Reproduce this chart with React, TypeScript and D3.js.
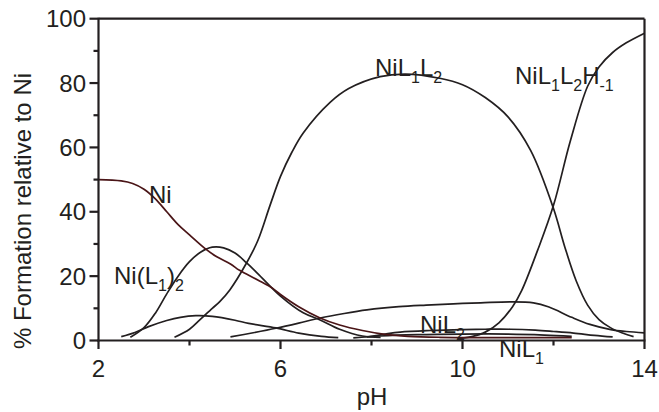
import React from "react";
import * as d3 from "d3";

const xTicksMajor = [2, 6, 10, 14];
const xTicksMinor = [4, 8, 12];
const yTicksMajor = [0, 20, 40, 60, 80, 100];
const yTicksMinor = [10, 30, 50, 70, 90];

const seriesNi: [number, number][] = [
  [2, 50], [2.5, 49.6], [2.75, 48.8], [3, 47], [3.25, 44], [3.5, 40], [3.75, 36], [4, 32.8],
  [4.33, 28.7], [4.6, 26], [4.9, 23.8], [5.1, 21.8], [5.5, 18.8], [5.83, 16.2], [6, 14.3],
  [6.4, 10.5], [6.87, 7.0], [7.3, 4.8], [7.8, 3.1], [8.3, 1.9], [8.8, 1.3], [9.5, 1.0],
  [10.5, 0.9], [11.5, 0.9], [12.4, 0.9],
];
const seriesNiL1_2: [number, number][] = [
  [2.7, 1], [3, 4], [3.25, 8.5], [3.5, 14.5], [3.75, 20], [4, 24.5], [4.25, 27.5], [4.5, 29],
  [4.75, 28.8], [5, 27.2], [5.25, 24.2], [5.5, 20.8], [6, 13.8], [6.5, 8.6], [6.87, 6.4],
  [7.3, 3.5], [7.8, 1.4], [8.2, 1.0],
];
const seriesHumpB: [number, number][] = [
  [2.5, 1.2], [2.8, 2.5], [3.1, 4.3], [3.5, 6.2], [3.8, 7.2], [4.14, 7.7], [4.5, 7.5],
  [5, 6.3], [5.3, 5.3], [5.9, 3.9], [6.4, 2.3], [6.9, 1.3], [7.27, 0.9],
];
const seriesRising: [number, number][] = [
  [4.9, 1.1], [5.4, 2.4], [5.9, 3.8], [6.4, 5.4], [6.87, 7.0], [7.4, 8.4], [7.9, 9.5],
  [8.6, 10.5], [9.2, 11.0], [9.8, 11.4], [10.4, 11.7], [11.05, 12.0], [11.56, 11.7],
  [11.9, 10.4], [12.4, 7.2], [12.8, 5.0], [13.26, 3.4], [13.6, 2.8], [14, 2.4],
];
const seriesNiL1L2: [number, number][] = [
  [3.67, 1.0], [4, 3.5], [4.22, 6.3], [4.5, 10], [4.66, 12], [4.89, 15.8], [5.25, 24],
  [5.5, 31], [5.77, 42], [6, 51], [6.25, 58.5], [6.5, 64.5], [7.09, 74], [7.5, 78.3],
  [8.19, 82], [8.75, 82.8], [9.5, 81.5], [10, 79.5], [10.5, 75.5], [11, 69.5],
  [11.5, 59], [12, 41], [12.25, 29], [12.5, 18.5], [12.75, 11], [13, 6.5],
  [13.25, 4.0], [13.5, 2.4], [13.76, 1.2],
];
const seriesNiL1L2Hm1: [number, number][] = [
  [9.9, 0.6], [10.2, 1.2], [10.5, 2.6], [10.8, 5.5], [11.1, 10.5], [11.3, 15.5],
  [11.65, 28], [12, 42], [12.37, 62], [12.75, 79], [13, 85], [13.3, 89.5], [13.6, 92.5],
  [14, 95.5],
];
const seriesNiL2: [number, number][] = [
  [7.9, 1.1], [8.3, 2.0], [8.63, 2.6], [9.3, 3.1], [10, 3.4], [10.5, 3.5], [11.05, 3.5],
  [11.6, 3.2], [12, 2.8], [12.44, 2.3], [12.9, 1.6], [13.3, 1.1],
];
const seriesNiL1: [number, number][] = [
  [7.6, 0.8], [8.2, 1.4], [9, 1.8], [10, 2.0], [11, 2.0], [11.8, 1.7], [12.4, 1.3],
];

const W = 659;
const H = 412;
const FONT = "'Liberation Sans', Arial, Helvetica, sans-serif";

export default function App() {
  const x = d3.scaleLinear().domain([2, 14]).range([98.5, 644.5]);
  const y = d3.scaleLinear().domain([0, 100]).range([340.5, 18.7]);
  const line = d3
    .line<[number, number]>()
    .x((d) => x(d[0]))
    .y((d) => y(d[1]))
    .curve(d3.curveCatmullRom.alpha(0.5));

  const black = "#231f20";
  const blackSeries = [seriesNiL1, seriesNiL2, seriesHumpB, seriesNiL1_2, seriesRising, seriesNiL1L2, seriesNiL1L2Hm1];

  const sub = (t: string) => (
    <tspan fontSize={16} dy={7}>{t}</tspan>
  );

  return (
    <svg width={W} height={H} style={{ position: "absolute", left: 0, top: 0, background: "#fff" }} fontFamily={FONT}>
      <rect x={0} y={0} width={W} height={H} fill="#fff" />
      {blackSeries.map((s, i) => (
        <path key={i} d={line(s) || ""} fill="none" stroke={black} strokeWidth={1.7} />
      ))}
      <path d={line(seriesNi) || ""} fill="none" stroke="#4a1517" strokeWidth={1.7} />

      <line x1={x(2)} x2={x(14)} y1={y(100)} y2={y(100)} stroke={black} strokeWidth={2.2} />
      <line x1={x(14)} x2={x(14)} y1={y(100)} y2={y(0)} stroke={black} strokeWidth={2.2} />
      <line x1={x(2)} x2={x(2)} y1={y(100) - 1} y2={y(0) + 1} stroke={black} strokeWidth={2.2} />
      <line x1={x(2) - 1} x2={x(14) + 1} y1={y(0)} y2={y(0)} stroke={black} strokeWidth={2.2} />

      {yTicksMajor.map((t) => (
        <g key={"ym" + t}>
          <line x1={x(2) - 9} x2={x(2)} y1={y(t)} y2={y(t)} stroke={black} strokeWidth={2.2} />
          <text x={86} y={y(t)} dy="0.36em" textAnchor="end" fontSize={24} fill={black}>{t}</text>
        </g>
      ))}
      {yTicksMinor.map((t) => (
        <line key={"yn" + t} x1={x(2) - 5} x2={x(2)} y1={y(t)} y2={y(t)} stroke={black} strokeWidth={2.2} />
      ))}

      {xTicksMajor.map((t) => (
        <g key={"xm" + t}>
          <line x1={x(t)} x2={x(t)} y1={y(0)} y2={y(0) + 8.5} stroke={black} strokeWidth={2.2} />
          <text x={x(t)} y={377} textAnchor="middle" fontSize={24} fill={black}>{t}</text>
        </g>
      ))}
      {xTicksMinor.map((t) => (
        <line key={"xn" + t} x1={x(t)} x2={x(t)} y1={y(0)} y2={y(0) + 5} stroke={black} strokeWidth={2.2} />
      ))}

      <text x={372} y={405} textAnchor="middle" fontSize={24} fill={black}>pH</text>
      <text transform={`translate(31,${211}) rotate(-90)`} textAnchor="middle" fontSize={24} fill={black}>
        % Formation relative to Ni
      </text>

      <text x={149} y={203} fontSize={24} fill={black}>Ni</text>
      <text x={114} y={284} fontSize={24} fill={black}>
        Ni(L{sub("1")}<tspan dy={-7}>)</tspan>{sub("2")}
      </text>
      <text x={375} y={76} fontSize={24} fill={black}>
        NiL{sub("1")}<tspan dy={-7}>L</tspan>{sub("2")}
      </text>
      <text x={515} y={84} fontSize={24} fill={black}>
        NiL{sub("1")}<tspan dy={-7}>L</tspan>{sub("2")}<tspan dy={-7}>H</tspan>{sub("-1")}
      </text>
      <text x={420} y={333} fontSize={24} fill={black}>
        NiL{sub("2")}
      </text>
      <text x={499} y={357} fontSize={24} fill={black}>
        NiL{sub("1")}
      </text>
    </svg>
  );
}
